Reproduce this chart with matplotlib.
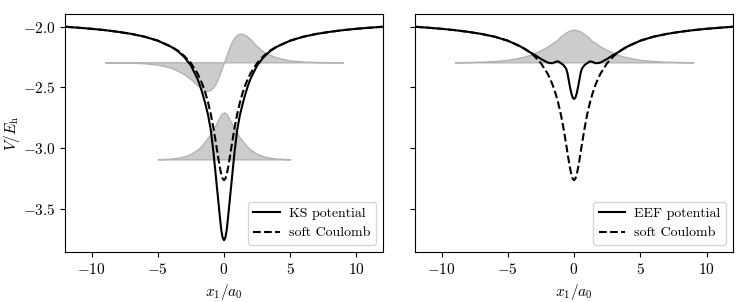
import matplotlib
matplotlib.use('Agg')
import matplotlib.pyplot as plt

plt.rcParams['font.family'] = 'serif'
plt.rcParams['font.serif'] = ['cmr10']
plt.rcParams['mathtext.fontset'] = 'cm'
plt.rcParams['axes.formatter.use_mathtext'] = True
plt.rcParams['font.size'] = 11

x_pot = [-12, -11, -10, -9, -8, -7, -6, -5, -4, -3.5, -3, -2.5, -2, -1.8, -1.6,
         -1.4, -1.2, -1, -0.8, -0.6, -0.5, -0.4, -0.3, -0.2, -0.1, 0, 0.1, 0.2,
         0.3, 0.4, 0.5, 0.6, 0.8, 1, 1.2, 1.4, 1.6, 1.8, 2, 2.5, 3, 3.5, 4, 5,
         6, 7, 8, 9, 10, 11, 12]

soft_coulomb = [-2.000, -2.008, -2.017, -2.028, -2.042, -2.059, -2.082, -2.115,
                -2.163, -2.196, -2.241, -2.300, -2.386, -2.431, -2.484, -2.548,
                -2.626, -2.720, -2.834, -2.965, -3.035, -3.104, -3.167, -3.219,
                -3.253, -3.265, -3.253, -3.219, -3.167, -3.104, -3.035, -2.965,
                -2.834, -2.720, -2.626, -2.548, -2.484, -2.431, -2.386, -2.300,
                -2.241, -2.196, -2.163, -2.115, -2.082, -2.059, -2.042, -2.028,
                -2.017, -2.008, -2.000]

ks_potential = [-2.000, -2.008, -2.017, -2.028, -2.042, -2.059, -2.082, -2.115,
                -2.165, -2.200, -2.250, -2.320, -2.430, -2.490, -2.560, -2.640,
                -2.730, -2.850, -3.030, -3.250, -3.360, -3.470, -3.580, -3.680,
                -3.740, -3.760, -3.740, -3.680, -3.580, -3.470, -3.360, -3.250,
                -3.030, -2.850, -2.730, -2.640, -2.560, -2.490, -2.430, -2.320,
                -2.250, -2.200, -2.165, -2.115, -2.082, -2.059, -2.042, -2.028,
                -2.017, -2.008, -2.000]

eef_potential = [-2.000, -2.008, -2.017, -2.028, -2.042, -2.059, -2.082, -2.115,
                 -2.165, -2.200, -2.230, -2.265, -2.295, -2.300, -2.300, -2.290,
                 -2.285, -2.300, -2.315, -2.345, -2.380, -2.440, -2.500, -2.550,
                 -2.585, -2.595, -2.585, -2.550, -2.500, -2.440, -2.380, -2.345,
                 -2.315, -2.300, -2.285, -2.290, -2.300, -2.300, -2.295, -2.265,
                 -2.230, -2.200, -2.165, -2.115, -2.082, -2.059, -2.042, -2.028,
                 -2.017, -2.008, -2.000]

# orbitals drawn on top of their energy levels
x_orb_wide = [-9, -8, -7, -6, -5, -4, -3.5, -3, -2.5, -2, -1.6, -1.3, -1, -0.8,
              -0.6, -0.4, -0.2, 0, 0.2, 0.4, 0.6, 0.8, 1, 1.3, 1.6, 2, 2.5, 3,
              3.5, 4, 5, 6, 7, 8, 9]
ks_level_2 = -2.293
ks_orbital_2 = [0, -0.001, -0.003, -0.008, -0.02, -0.045, -0.07, -0.10, -0.14,
                -0.19, -0.225, -0.237, -0.225, -0.205, -0.17, -0.12, -0.06, 0,
                0.06, 0.12, 0.17, 0.205, 0.228, 0.238, 0.225, 0.19, 0.13, 0.085,
                0.06, 0.04, 0.015, 0.006, 0.002, 0.001, 0]

x_orb_narrow = [-5, -4.5, -4, -3.5, -3, -2.5, -2, -1.8, -1.6, -1.4, -1.2, -1,
                -0.8, -0.6, -0.4, -0.2, 0, 0.2, 0.4, 0.6, 0.8, 1, 1.2, 1.4, 1.6,
                1.8, 2, 2.5, 3, 3.5, 4, 4.5, 5]
ks_level_1 = -3.093
ks_orbital_1 = [0.001, 0.003, 0.006, 0.012, 0.024, 0.045, 0.08, 0.10, 0.125,
                0.152, 0.18, 0.212, 0.25, 0.29, 0.333, 0.373, 0.387, 0.373, 0.333,
                0.29, 0.25, 0.212, 0.18, 0.152, 0.125, 0.10, 0.08, 0.045, 0.024,
                0.012, 0.006, 0.003, 0.001]

eef_level = -2.293
eef_orbital = [0, 0.002, 0.005, 0.01, 0.02, 0.04, 0.055, 0.075, 0.10, 0.13, 0.16,
               0.18, 0.215, 0.23, 0.245, 0.258, 0.265, 0.27, 0.265, 0.258, 0.245,
               0.23, 0.215, 0.18, 0.16, 0.13, 0.10, 0.075, 0.055, 0.04, 0.02,
               0.01, 0.005, 0.002, 0]


def shifted(level, values):
    return [level + v for v in values]


def draw_orbital(ax, x, level, values):
    ax.fill_between(x, level, shifted(level, values), facecolor='#cccccc',
                    edgecolor='#b3b3b3', linewidth=1.0, zorder=1)


fig = plt.figure(figsize=(7.47, 3.02), dpi=100)
ax1 = fig.add_axes([0.0874, 0.1656, 0.4249, 0.7880])
ax2 = fig.add_axes([0.5556, 0.1656, 0.4257, 0.7880], sharey=ax1)

draw_orbital(ax1, x_orb_wide, ks_level_2, ks_orbital_2)
draw_orbital(ax1, x_orb_narrow, ks_level_1, ks_orbital_1)
ax1.plot(x_pot, ks_potential, color='black', lw=1.5, label='KS potential', zorder=3)
ax1.plot(x_pot, soft_coulomb, color='black', lw=1.5, ls='--', label='soft Coulomb', zorder=3)

draw_orbital(ax2, x_orb_wide, eef_level, eef_orbital)
ax2.plot(x_pot, eef_potential, color='black', lw=1.5, label='EEF potential', zorder=3)
ax2.plot(x_pot, soft_coulomb, color='black', lw=1.5, ls='--', label='soft Coulomb', zorder=3)

for ax in (ax1, ax2):
    ax.set_xlim(-12, 12)
    ax.set_xticks([-10, -5, 0, 5, 10])
    ax.set_xlabel(r'$x_1/a_0$')
    ax.legend(loc='lower right', fontsize=10, handlelength=1.9, handletextpad=0.65)

ax1.set_ylim(-3.857, -1.895)
ax1.set_yticks([-2.0, -2.5, -3.0, -3.5])
ax1.set_ylabel(r'$V/E_\mathrm{h}$')
ax1.yaxis.set_label_coords(-0.137, 0.5)
plt.setp(ax2.get_yticklabels(), visible=False)

fig.savefig('out.png', dpi=100)
